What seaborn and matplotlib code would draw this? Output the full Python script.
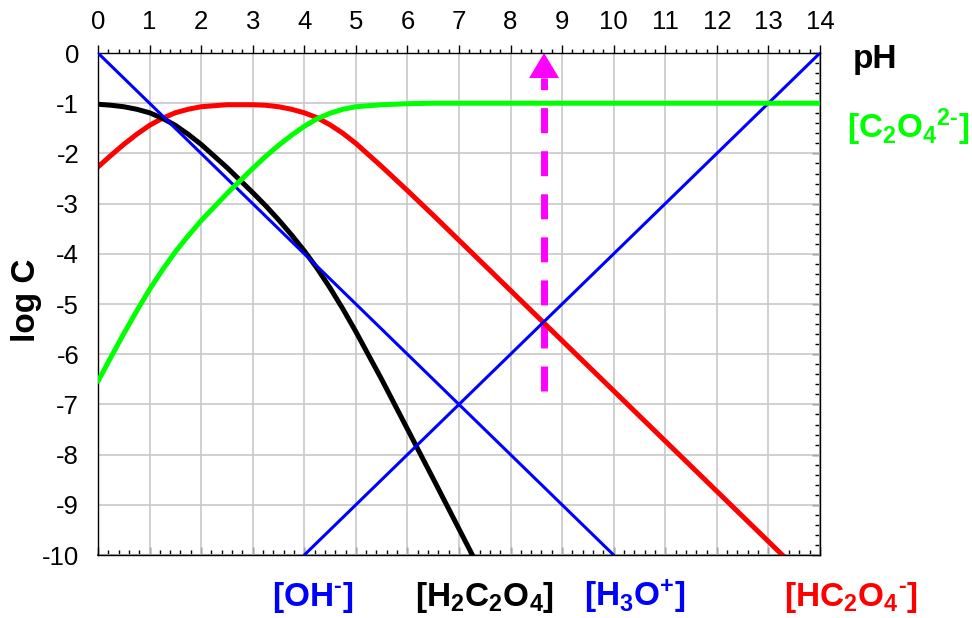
import matplotlib
matplotlib.use('Agg')
import matplotlib.pyplot as plt
import seaborn as sns
from matplotlib.ticker import MultipleLocator

# log C diagram of oxalic acid (C = 0.1 M)
ph = [0, 0.25, 0.5, 0.75, 1, 1.25, 1.5, 1.75, 2, 2.25, 2.5, 2.75, 3, 3.25, 3.5,
      3.75, 4, 4.25, 4.5, 4.75, 5, 5.5, 6, 6.5, 7, 7.5, 8, 9, 10, 11, 12, 13, 14]
h2c2o4 = [-1.02, -1.04, -1.07, -1.12, -1.19, -1.30, -1.44, -1.62, -1.82, -2.05,
          -2.28, -2.53, -2.78, -3.04, -3.32, -3.62, -3.94, -4.29, -4.68, -5.10,
          -5.55, -6.50, -7.49, -8.48, -9.48, -10.48, -11.48, -13.48, -15.48,
          -17.48, -19.48, -21.48, -23.48]
hc2o4 = [-2.27, -2.04, -1.82, -1.62, -1.44, -1.30, -1.19, -1.12, -1.07, -1.05,
         -1.03, -1.03, -1.03, -1.04, -1.07, -1.12, -1.19, -1.29, -1.43, -1.60,
         -1.80, -2.26, -2.74, -3.23, -3.73, -4.23, -4.73, -5.73, -6.73, -7.73,
         -8.73, -9.73, -10.73]
c2o4 = [-6.54, -6.06, -5.59, -5.14, -4.71, -4.32, -3.96, -3.64, -3.34, -3.07,
        -2.80, -2.55, -2.30, -2.06, -1.84, -1.64, -1.46, -1.31, -1.20, -1.12,
        -1.07, -1.03, -1.01, -1.00, -1.00, -1.00, -1.00, -1.00, -1.00, -1.00,
        -1.00, -1.00, -1.00]

h3o_ph = [0, 10]
h3o_log = [0, -10]
oh_ph = [4, 14]
oh_log = [-10, 0]

# equivalence point arrow
arrow_ph = 8.65
arrow_bottom = -6.73
arrow_top = 0.0
head_len = 0.5

sns.set_theme(style='white')
plt.rcParams['font.family'] = ['Liberation Sans', 'DejaVu Sans']
plt.rcParams['axes.unicode_minus'] = False
plt.rcParams['text.color'] = 'black'
plt.rcParams['axes.labelcolor'] = 'black'
plt.rcParams['xtick.color'] = 'black'
plt.rcParams['ytick.color'] = 'black'
plt.rcParams['mathtext.fontset'] = 'custom'
plt.rcParams['mathtext.rm'] = 'Liberation Sans:bold'
plt.rcParams['mathtext.bf'] = 'Liberation Sans:bold'
plt.rcParams['mathtext.it'] = 'Liberation Sans:bold'
plt.rcParams['mathtext.sf'] = 'Liberation Sans:bold'

fig, ax = plt.subplots(figsize=(9.72, 6.18), dpi=100)
fig.subplots_adjust(left=0.1008, right=0.8436, top=0.9142, bottom=0.1019)

# magenta dashed arrow (behind the curves)
ax.plot([arrow_ph, arrow_ph], [arrow_bottom, arrow_top - head_len],
        color='#ff00ff', lw=5, linestyle=(0, (3.6, 2.6)), solid_capstyle='butt',
        dash_capstyle='butt', zorder=1.5)
ax.annotate('', xy=(arrow_ph, arrow_top), xytext=(arrow_ph, arrow_top - head_len),
            arrowprops=dict(arrowstyle='-|>,head_length=0.9,head_width=0.54',
                            mutation_scale=20, color='#ff00ff', lw=0,
                            shrinkA=0, shrinkB=0), zorder=1.5)

sns.lineplot(x=ph, y=hc2o4, color='#ff0000', lw=3.6, ax=ax, zorder=2,
             solid_capstyle='round')
sns.lineplot(x=ph, y=h2c2o4, color='#000000', lw=3.6, ax=ax, zorder=2.1,
             solid_capstyle='round')
sns.lineplot(x=h3o_ph, y=h3o_log, color='#0000ff', lw=2.2, ax=ax, zorder=3)
sns.lineplot(x=oh_ph, y=oh_log, color='#0000ff', lw=2.2, ax=ax, zorder=3)
sns.lineplot(x=ph, y=c2o4, color='#00ff00', lw=3.6, ax=ax, zorder=3.5,
             solid_capstyle='round')

ax.set_xlim(0, 14)
ax.set_ylim(-10, 0)
ax.set_axisbelow(True)
ax.grid(True, which='major', color='#c8c8c8', lw=1.2)

ax.xaxis.set_major_locator(MultipleLocator(1))
ax.xaxis.set_minor_locator(MultipleLocator(0.2))
ax.yaxis.set_major_locator(MultipleLocator(1))
ax.yaxis.set_minor_locator(MultipleLocator(0.2))
ax.xaxis.tick_top()
ax.tick_params(axis='both', which='major', direction='out', length=5.5,
               width=1, color='black', labelcolor='black', labelsize=18.5, pad=8)
ax.tick_params(axis='both', which='minor', direction='out', length=3,
               width=1, color='black')
ax.tick_params(axis='x', bottom=False, top=True, which='both')

for s in ax.spines.values():
    s.set_color('black')
    s.set_linewidth(1)

# inward ticks on the bottom and right sides
sx = ax.secondary_xaxis('bottom')
sx.xaxis.set_major_locator(MultipleLocator(1))
sx.xaxis.set_minor_locator(MultipleLocator(0.2))
sx.tick_params(which='major', direction='in', length=6, width=1, labelbottom=False)
sx.tick_params(which='minor', direction='in', length=3.5, width=1)
sy = ax.secondary_yaxis('right')
sy.yaxis.set_major_locator(MultipleLocator(1))
sy.yaxis.set_minor_locator(MultipleLocator(0.2))
sy.tick_params(which='major', direction='in', length=6, width=1, labelright=False)
sy.tick_params(which='minor', direction='in', length=3.5, width=1)

ax.set_xlabel('')
ax.set_ylabel('log C', fontsize=24, fontweight='bold', color='black')
ax.yaxis.set_label_coords(-0.0776, 0.508)

fig.text(875 / 972, 0.890, 'pH', fontsize=24, fontweight='bold',
         color='black', ha='center', va='baseline')
fig.text(908 / 972, 0.7767, '$\\mathbf{[C_2O_4{}^{2\u2010}]}$', fontsize=24,
         color='#00ff00', ha='center', va='baseline')

bottom_labels = [
    (313, '$\\mathbf{[OH^{\u2010}]}$', '#0000ff'),
    (485, '$\\mathbf{[H_2C_2O_4]}$', '#000000'),
    (635, '$\\mathbf{[H_3O^{+}]}$', '#0000ff'),
    (851, '$\\mathbf{[HC_2O_4{}^{\u2010}]}$', '#ff0000'),
]
for xp, txt, col in bottom_labels:
    fig.text(xp / 972, 0.0194, txt, fontsize=24, color=col,
             ha='center', va='baseline')

fig.savefig('out.png', dpi=100)
